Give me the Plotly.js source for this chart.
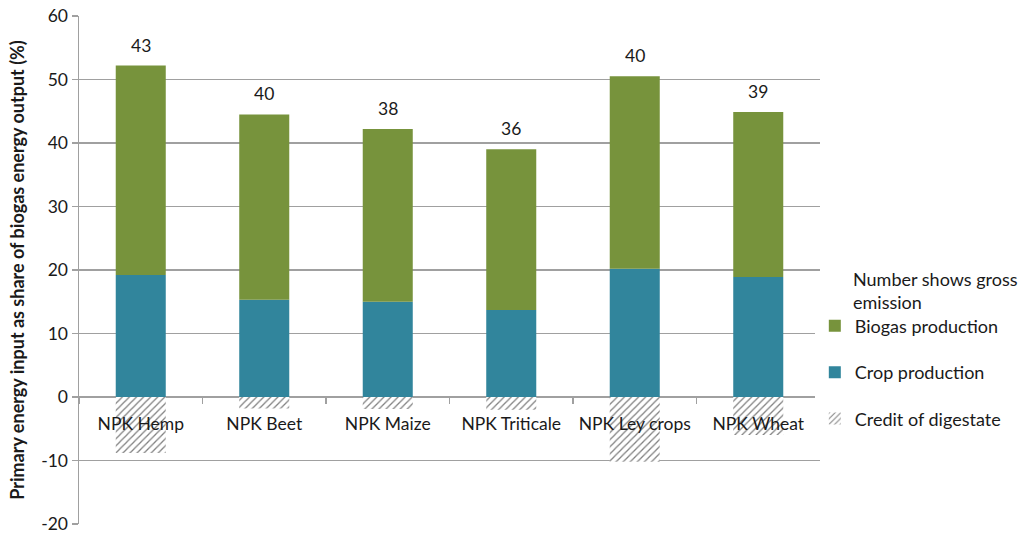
<!DOCTYPE html>
<html>
<head>
<meta charset="utf-8">
<script src="https://cdn.plot.ly/plotly-3.0.1.min.js"></script>
<style>
  html, body { margin: 0; padding: 0; background: #fff; }
  #chart { width: 1024px; height: 540px; }
</style>
</head>
<body>
<div id="chart"></div>
<script>
// values
const crops = ['NPK Hemp', 'NPK Beet', 'NPK Maize', 'NPK Triticale', 'NPK Ley crops', 'NPK Wheat']
const cropProduction = [19.2, 15.3, 15.0, 13.7, 20.2, 18.9]
const biogasProduction = [33.0, 29.2, 27.2, 25.3, 30.3, 26.0]
const digestateCredit = [-8.8, -1.8, -1.9, -2.0, -10.2, -6.0]
const grossLabels = ['43', '40', '38', '36', '40', '39']
const yTickVals = [-20, -10, 0, 10, 20, 30, 40, 50, 60]
const yTickText = ['-20', '-10', '0', '10', '20', '30', '40', '50', '60']

const FONT = 'Lato, "Open Sans", sans-serif'
const GRID = '#a0a0a0'
const INK = '#1a1a1a'

// stacking follows trace order (first = bottom), legend follows legendrank
let traces = [
  {
    type: 'bar', name: 'Credit of digestate', legendgroup: 'credit', legendrank: 3,
    x: crops, y: digestateCredit,
    marker: {
      color: '#ffffff',
      line: { width: 0 },
      pattern: { shape: '/', fgcolor: '#7f7f7f', bgcolor: '#ffffff', size: 5, solidity: 0.25 }
    }
  },
  {
    type: 'bar', name: 'Crop production', legendgroup: 'crop', legendrank: 2,
    x: crops, y: cropProduction,
    marker: { color: '#31859c', line: { width: 0 } }
  },
  {
    type: 'bar', name: 'Biogas production', legendgroup: 'biogas', legendrank: 1,
    x: crops, y: biogasProduction,
    marker: { color: '#77933c', line: { width: 0 } }
  }
]

// number above each stack
let annotations = crops.map((c, i) => ({
  x: c,
  y: cropProduction[i] + biogasProduction[i],
  text: grossLabels[i],
  showarrow: false,
  yanchor: 'bottom',
  yshift: 8,
  font: { family: FONT, size: 17.5, color: INK }
}))

// legend heading
annotations.push({
  xref: 'paper', yref: 'paper',
  x: 1.042, xanchor: 'left',
  y: 0.507, yanchor: 'top',
  align: 'left',
  showarrow: false,
  text: 'Number shows gross<br>emission',
  font: { family: FONT, size: 18, color: INK }
})

let layout = {
  width: 1024, height: 540,
  margin: { l: 79, r: 204, t: 16, b: 16 },
  paper_bgcolor: '#fff', plot_bgcolor: '#fff',
  barmode: 'relative',
  bargap: 0.595,
  font: { family: FONT, size: 16, color: INK },
  showlegend: true,
  legend: {
    x: 0.993, xanchor: 'left',
    y: 0.426, yanchor: 'top',
    traceorder: 'grouped',
    tracegroupgap: 20,
    font: { family: FONT, size: 18, color: INK },
    itemwidth: 30
  },
  xaxis: {
    type: 'category',
    anchor: 'free', position: 0.25,
    showgrid: false, showline: false, zeroline: false,
    ticks: 'outside', tickson: 'boundaries', ticklen: 6, tickwidth: 1.5, tickcolor: GRID,
    ticklabelstandoff: 14,
    tickfont: { family: FONT, size: 17.5, color: INK }
  },
  yaxis: {
    range: [-20, 60],
    tickmode: 'array', tickvals: yTickVals, ticktext: yTickText,
    showgrid: true, gridcolor: GRID, gridwidth: 1.5,
    zeroline: true, zerolinecolor: GRID, zerolinewidth: 1.5,
    showline: true, linecolor: GRID, linewidth: 1.5,
    ticks: 'outside', ticklen: 6, tickwidth: 1.5, tickcolor: GRID,
    tickfont: { family: FONT, size: 17.5, color: INK },
    title: {
      text: '<b>Primary energy input as share of biogas energy output (%)</b>',
      font: { family: FONT, size: 18, color: INK },
      standoff: 12
    }
  },
  annotations: annotations
}

Plotly.newPlot('chart', traces, layout, { displayModeBar: false, staticPlot: true })
</script>
</body>
</html>
